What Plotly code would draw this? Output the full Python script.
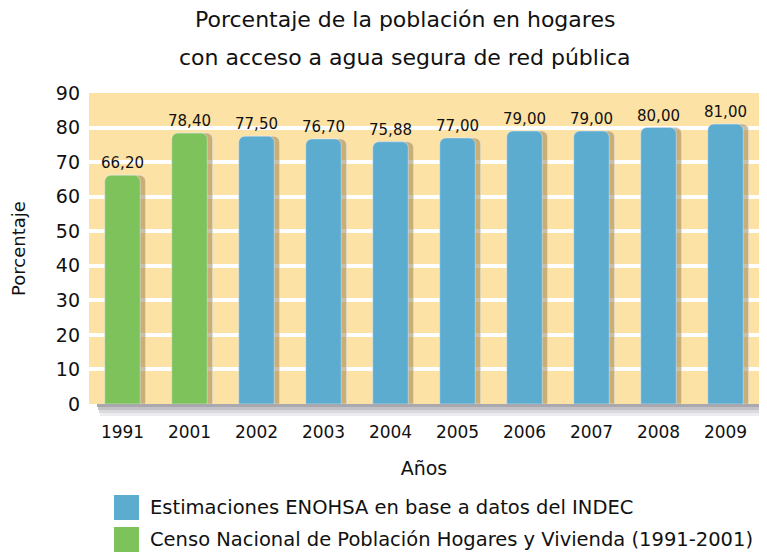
import plotly.graph_objects as go

years = ["1991", "2001", "2002", "2003", "2004", "2005", "2006", "2007", "2008", "2009"]
pct = [66.20, 78.40, 77.50, 76.70, 75.88, 77.00, 79.00, 79.00, 80.00, 81.00]
source = ["censo", "censo", "enohsa", "enohsa", "enohsa", "enohsa", "enohsa", "enohsa", "enohsa", "enohsa"]

legend_names = {
    "enohsa": "Estimaciones ENOHSA en base a datos del INDEC",
    "censo": "Censo Nacional de Población Hogares y Vivienda (1991-2001)",
}
colors = {"enohsa": "#5BACCF", "censo": "#7DC25B"}

FONT = "DejaVu Sans"
OFF = 8  # the html body adds an 8px margin around the figure
W, H = 767 - OFF, 554 - OFF
L, R, T, B = 81, 8, 85, 150
pw, ph = W - L - R, H - T - B


# helpers: screen pixels (as seen in the page) -> paper coords
def px_x(x):
    return (x - OFF - L) / pw


def px_y(y):
    return (H - B - (y - OFF)) / ph


bar_w = 0.53
labels = [f"{v:.2f}".replace(".", ",") for v in pct]

fig = go.Figure()

# shadow behind each bar, nudged to the right
fig.add_trace(go.Bar(
    x=years, y=pct, width=bar_w, offset=-bar_w / 2 + 0.08,
    marker=dict(color="rgba(140,110,60,0.45)", cornerradius=6),
    hoverinfo="skip", showlegend=False,
))
fig.add_trace(go.Bar(
    x=years, y=pct, width=bar_w, offset=-bar_w / 2,
    marker=dict(color=[colors[s] for s in source], cornerradius=6),
    text=labels, textposition="outside", cliponaxis=False, constraintext="none",
    textfont=dict(family=FONT, size=15, color="#111"),
    showlegend=False,
))

fig.update_layout(
    width=W, height=H,
    margin=dict(l=L, r=R, t=T, b=B),
    paper_bgcolor="white", plot_bgcolor="#FDE2A6",
    barmode="overlay",
    font=dict(family=FONT, color="#111"),
    xaxis=dict(
        type="category", showgrid=False, showline=False, ticks="",
        tickfont=dict(family=FONT, size=17), ticklabelstandoff=16,
        title=dict(text="Años", font=dict(family=FONT, size=19), standoff=20),
    ),
    yaxis=dict(
        range=[0, 90], dtick=10, showgrid=True, gridcolor="white", gridwidth=4,
        zeroline=False, showline=False, ticks="",
        tickfont=dict(family=FONT, size=19), ticklabelstandoff=8,
        title=dict(text="Porcentaje", font=dict(family=FONT, size=18), standoff=28),
    ),
    showlegend=False,
)

# two-line title, spaced like the original
for text, yc in [("Porcentaje de la población en hogares", 20),
                 ("con acceso a agua segura de red pública", 57)]:
    fig.add_annotation(xref="paper", yref="paper", x=px_x(405), y=px_y(yc),
                       xanchor="center", yanchor="middle", showarrow=False,
                       text=text, font=dict(family=FONT, size=22, color="#111"))

# 3D-ish frame shadow on the right and bottom of the plot area (stepped gradient)
shades = ["#A8A8AE", "#C2C2C7", "#DADADE", "#EDEDEF"]
for k, c in enumerate(shades):
    fig.add_shape(type="rect", xref="paper", yref="paper",
                  x0=px_x(97 + k), x1=px_x(759 + 2 * (k + 1)),
                  y0=px_y(404 + 3 * (k + 1)), y1=px_y(404 + 3 * k),
                  fillcolor=c, line_width=0, layer="below")
    fig.add_shape(type="rect", xref="paper", yref="paper",
                  x0=px_x(759 + 2 * k), x1=px_x(759 + 2 * (k + 1)),
                  y0=px_y(404 + 3 * k), y1=px_y(100),
                  fillcolor=c, line_width=0, layer="below")

# legend drawn by hand to get the big square swatches
for i, key in enumerate(["enohsa", "censo"]):
    top = 495 + i * 32
    fig.add_shape(type="rect", xref="paper", yref="paper",
                  x0=px_x(114), x1=px_x(139), y0=px_y(top + 25), y1=px_y(top),
                  fillcolor=colors[key], line_width=0)
    fig.add_annotation(xref="paper", yref="paper", x=px_x(148), y=px_y(top + 12.5),
                       xanchor="left", yanchor="middle", showarrow=False,
                       text=legend_names[key], font=dict(family=FONT, size=19.5, color="#111"))

fig.write_html("out.html")
